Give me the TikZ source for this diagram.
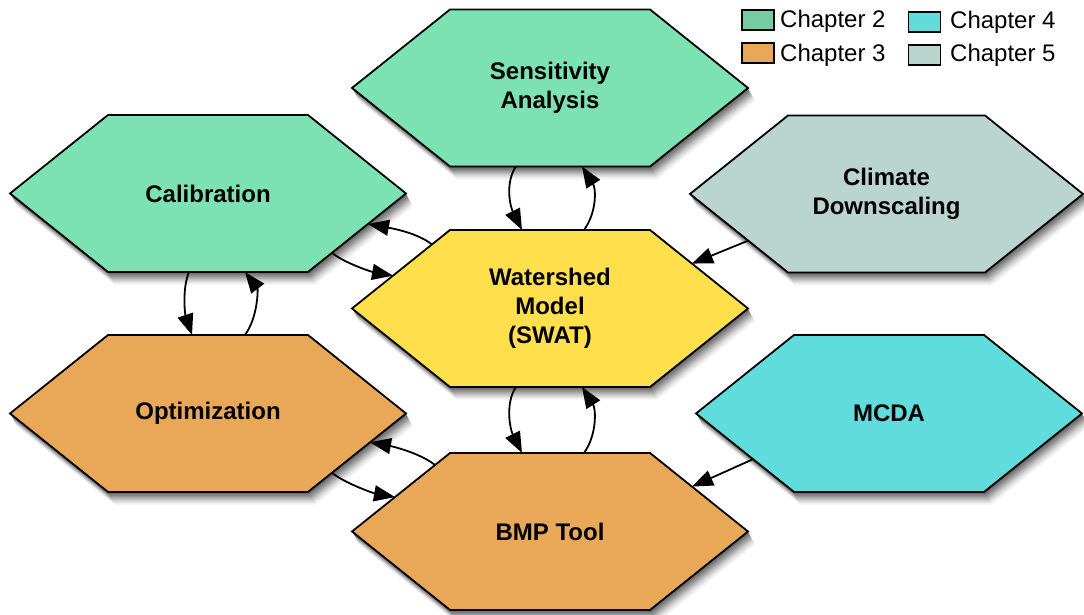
\documentclass[tikz,border=0pt]{standalone}
\usepackage{fontspec}
\setmainfont{Liberation Sans}
\usetikzlibrary{arrows.meta,calc}
\definecolor{cgreen}{RGB}{125,226,179}
\definecolor{cyellow}{RGB}{255,224,76}
\definecolor{corange}{RGB}{232,168,87}
\definecolor{ccyan}{RGB}{96,220,220}
\definecolor{cgray}{RGB}{186,212,208}
\definecolor{lgreen}{RGB}{118,204,160}
\tikzset{
  hextext/.style={inner sep=0pt, align=center, font=\fontsize{24}{29}\selectfont\bfseries},
  conn/.style={line width=1.8pt, -{Triangle[length=21pt,width=16pt]}},
  hexborder/.style={line width=1.8pt, line join=miter},
  legbox/.style={draw, line width=1.6pt, minimum width=32pt, minimum height=20pt, inner sep=0pt},
  legtext/.style={anchor=base west, inner sep=0pt, font=\fontsize{24}{28}\selectfont},
}
\begin{document}
\begin{tikzpicture}[x=1pt,y=1pt]
\useasboundingbox (0,0) rectangle (1084,615);
% hexagon centres
\coordinate (sens) at (550,527);
\coordinate (cal) at (208,421.5);
\coordinate (clim) at (886.5,421);
\coordinate (wat) at (550,306.5);
\coordinate (opt) at (208,201.5);
\coordinate (mcda) at (889,201.5);
\coordinate (bmp) at (550,83.5);
% soft shadows
\foreach \s/\k in {12/3,11/6,10/10,9/15,8/20,7/26,6/32,5/38,4/44,3/50,2/55,1/60}{
  \foreach \n/\w in {sens/198,cal/198,clim/196.5,wat/198,opt/198,mcda/193,bmp/198}{
    \fill[black!\k!white] ($(\n)+(-\w+0.6*\s,-1.1*\s)$) -- ($(\n)+(-\w+98+0.6*\s,78.5-1.1*\s)$)
      -- ($(\n)+(\w-98+0.6*\s,78.5-1.1*\s)$) -- ($(\n)+(\w+0.6*\s,-1.1*\s)$)
      -- ($(\n)+(\w-98+0.6*\s,-78.5-1.1*\s)$) -- ($(\n)+(-\w+98+0.6*\s,-78.5-1.1*\s)$) -- cycle;
  }
}
% hexagon bodies
\foreach \n/\w/\c in {sens/198/cgreen,cal/198/cgreen,clim/196.5/cgray,wat/198/cyellow,opt/198/corange,mcda/193/ccyan,bmp/198/corange}{
  \draw[hexborder, fill=\c] ($(\n)+(-\w,0)$) -- ($(\n)+(-\w+98,78.5)$)
      -- ($(\n)+(\w-98,78.5)$) -- ($(\n)+(\w,0)$)
      -- ($(\n)+(\w-98,-78.5)$) -- ($(\n)+(-\w+98,-78.5)$) -- cycle;
}
% labels
\node[hextext] (tsens) at (sens) {Sensitivity\\Analysis};
\node[hextext] (tcal) at (cal) {Calibration};
\node[hextext] (tclim) at (clim) {Climate\\Downscaling};
\node[hextext] (twat) at (wat) {Watershed\\Model\\(SWAT)};
\node[hextext] (topt) at (opt) {Optimization};
\node[hextext] (tmcda) at (mcda) {MCDA};
\node[hextext] (tbmp) at (bmp) {BMP Tool};
% connectors
\draw[conn] ([shift={(-34,-78.5)}]sens) .. controls +(-11,-16) and +(-12,24) .. ([shift={(-28,78.5)}]wat);
\draw[conn] ([shift={(34,78.5)}]wat) .. controls +(13,18) and +(14,-22) .. ([shift={(32,-78.5)}]sens);
\draw[conn] ([shift={(-34,-78.5)}]wat) .. controls +(-11,-16) and +(-12,24) .. ([shift={(-28,78.5)}]bmp);
\draw[conn] ([shift={(34,78.5)}]bmp) .. controls +(13,18) and +(14,-22) .. ([shift={(32,-78.5)}]wat);
\draw[conn] ([shift={(-19,-78.5)}]cal) .. controls +(-7,-17) and +(-7,21) .. ([shift={(-16,78.5)}]opt);
\draw[conn] ([shift={(37,78.5)}]opt) .. controls +(13,18) and +(13,-17) .. ([shift={(37,-78.5)}]cal);
\draw[conn] ([shift={(-118,64)}]wat) .. controls +(-15,12) and +(22,-4) .. ([shift={(160,-30.5)}]cal);
\draw[conn] ([shift={(124,-59.3)}]cal) .. controls +(12,-10) and +(-22,4) .. ([shift={(-157,32.8)}]wat);
\draw[conn] ([shift={(-115,66.5)}]bmp) .. controls +(-15,12) and +(22,-4) .. ([shift={(162,-28.8)}]opt);
\draw[conn] ([shift={(124,-59.3)}]opt) .. controls +(12,-10) and +(-22,4) .. ([shift={(-155,34.4)}]bmp);
\draw[conn] ([shift={(-138.5,-46.7)}]clim) -- ([shift={(142,44.9)}]wat);
\draw[conn] ([shift={(-136,-45.7)}]mcda) -- ([shift={(142,44.9)}]bmp);
% legend
\node[legbox, fill=lgreen] (l2) at (758,594.7) {};
\node[legtext] (t2) at (780,587) {Chapter 2};
\node[legbox, fill=corange] (l3) at (758,561.7) {};
\node[legtext] (t3) at (780,553) {Chapter 3};
\node[legbox, fill=ccyan] (l4) at (924.5,592.7) {};
\node[legtext] (t4) at (950,586) {Chapter 4};
\node[legbox, fill=cgray] (l5) at (924.5,560) {};
\node[legtext] (t5) at (950,553) {Chapter 5};
\end{tikzpicture}
\end{document}
